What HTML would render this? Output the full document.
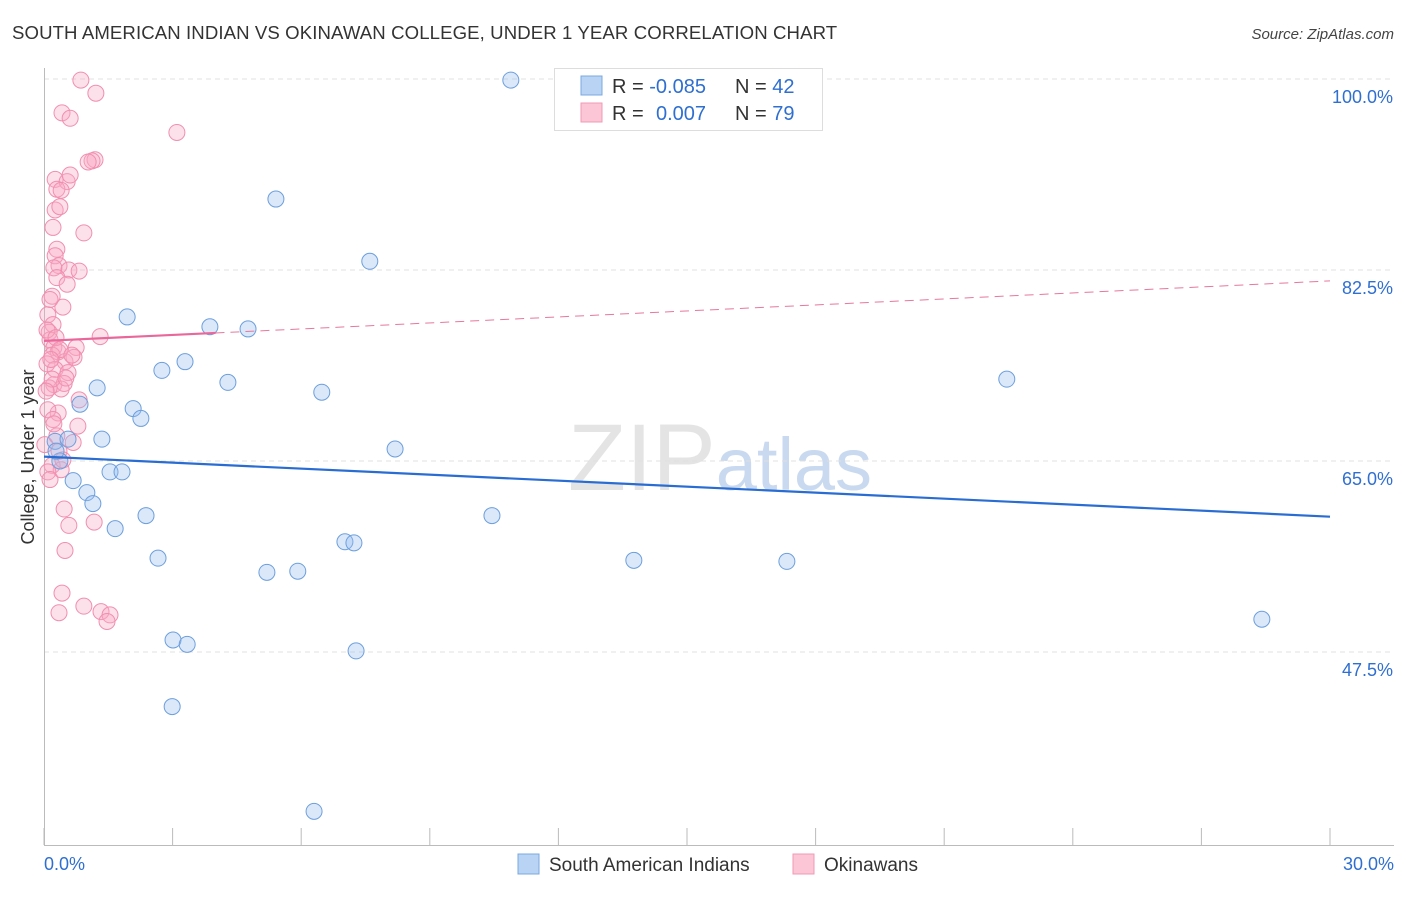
<!DOCTYPE html>
<html><head><meta charset="utf-8">
<style>
body{margin:0;background:#fff;font-family:"Liberation Sans",sans-serif;}
svg text{font-family:"Liberation Sans",sans-serif;}
</style></head>
<body>
<svg id="chart" width="1406" height="892" xmlns="http://www.w3.org/2000/svg">
<text x="12" y="39" font-size="18.6" fill="#333" letter-spacing="0.1">SOUTH AMERICAN INDIAN VS OKINAWAN COLLEGE, UNDER 1 YEAR CORRELATION CHART</text>
<text x="1394" y="39" font-size="15" fill="#444" text-anchor="end" font-style="italic">Source: ZipAtlas.com</text>
<text x="720" y="490" font-size="95" fill="#e4e4e4" text-anchor="middle" font-family="Liberation Serif">ZIP<tspan fill="#c9d9ef" font-family="Liberation Sans" font-size="74">atlas</tspan></text>
<text transform="translate(34,457) rotate(-90)" font-size="18" fill="#333" text-anchor="middle">College, Under 1 year</text>
<g id="grid"></g><g id="axes"></g><g id="pink"></g><g id="blue"></g><g id="trends"></g>
<g>
<rect x="554.5" y="68.5" width="268" height="62" fill="#fff" stroke="#ddd"/>
<rect x="581" y="76" width="21" height="19" fill="#b9d3f5" stroke="#7aa8e0"/>
<rect x="581" y="103" width="21" height="19" fill="#fcc6d6" stroke="#f09ab6"/>
<text x="612" y="93" font-size="20" fill="#333">R = <tspan fill="#2f6fd0">-0.085</tspan><tspan x="735">N = </tspan><tspan fill="#2f6fd0">42</tspan></text>
<text x="612" y="120" font-size="20" fill="#333">R = <tspan fill="#2f6fd0" x="656">0.007</tspan><tspan x="735">N = </tspan><tspan fill="#2f6fd0">79</tspan></text>
</g>
<g>
<rect x="518" y="854" width="21" height="20" fill="#b9d3f5" stroke="#7aa8e0"/>
<text x="549" y="871" font-size="19" fill="#333">South American Indians</text>
<rect x="793" y="854" width="21" height="20" fill="#fcc6d6" stroke="#f09ab6"/>
<text x="824" y="871" font-size="19" fill="#333">Okinawans</text>
</g>
</svg>
<script>
const xTicks=[0,3,6,9,12,15,18,21,24,27,30];
const yTicks=[100,82.5,65,47.5];
const yTickLabels=["100.0%","82.5%","65.0%","47.5%"];
const blueX=[10.89,5.41,7.60,1.94,3.87,4.76,3.29,2.75,4.29,1.24,6.48,22.46,0.84,2.08,2.26,1.35,0.26,0.56,8.19,0.37,1.54,1.82,0.68,1.00,1.14,2.38,10.45,1.66,7.02,7.23,2.66,13.76,17.33,5.20,5.92,28.41,3.01,3.34,7.28,2.99,6.30,0.28];
const blueY=[99.9,89.0,83.3,78.2,77.3,77.1,74.1,73.3,72.2,71.7,71.3,72.5,70.2,69.8,68.9,67.0,66.8,67.0,66.1,65.0,64.0,64.0,63.2,62.1,61.1,60.0,60.0,58.8,57.6,57.5,56.1,55.9,55.8,54.8,54.9,50.5,48.6,48.2,47.6,42.5,32.9,65.9];
const pinkX=[.86,1.21,.42,.61,3.10,1.19,1.12,.26,.54,.30,.40,.26,.37,.93,.21,.30,.26,.35,.58,.82,.23,.30,.54,.19,.44,.09,.21,.12,1.31,.14,.23,.33,.75,.19,.49,.70,.07,.26,.56,.23,.47,.40,.12,.82,.33,.09,.79,.21,.68,.02,.35,.19,.40,.09,.47,1.17,.58,.49,.42,.93,.35,1.33,1.54,1.47,.19,.07,.28,.14,.61,.37,.16,.30,.51,1.03,.05,.23,.44,.65,.14];
const pinkY=[99.9,98.7,96.9,96.4,95.1,92.6,92.5,90.8,90.6,89.9,89.8,88.0,88.3,85.9,86.4,84.4,83.8,82.9,82.5,82.4,82.7,81.8,81.2,80.1,79.1,78.4,77.5,76.8,76.4,76.1,75.4,75.0,75.4,74.7,74.1,74.5,73.9,73.4,73.1,72.0,72.1,71.6,71.7,70.6,69.4,69.7,68.2,68.8,66.7,66.5,65.9,64.6,64.2,64.0,60.6,59.4,59.1,56.8,52.9,51.7,51.1,51.2,50.9,50.3,72.5,77.0,76.3,79.8,91.2,75.2,74.3,67.3,72.6,92.4,71.4,68.4,65.1,74.7,63.3];
const blueTrend=[65.4,59.9];
const pinkTrend=[76.0,81.5];
const X=v=>44+v*(1286/30);
const Y=v=>79+(100-v)*(191/17.5);
const NS="http://www.w3.org/2000/svg";
function mk(parent,tag,attrs){const e=document.createElementNS(NS,tag);for(const k in attrs)e.setAttribute(k,attrs[k]);document.getElementById(parent).appendChild(e);return e;}
yTicks.forEach((t,i)=>{
 const g=mk('grid','line',{x1:44,x2:1394,y1:Y(t),y2:Y(t),stroke:'#e0e0e0','stroke-dasharray':'5,4'});
 
 
 const l=mk('grid','text',{x:1393,y:Y(t)+24,'font-size':18,fill:'#2f6fd0','text-anchor':'end'});
 l.textContent=yTickLabels[i];
 
 
});
const ax=mk('axes','path',{d:'M44.5 68 V845.5 H1394',stroke:'#bbb',fill:'none'});


xTicks.forEach(t=>{
 const k=mk('axes','line',{x1:X(t),x2:X(t),y1:828,y2:845,stroke:'#bbb'});
 
 
});
[[0,'0.0%','start',44],[30,'30.0%','end',1394]].forEach(a=>{
 const l=mk('axes','text',{x:a[3],y:870,'font-size':18,fill:'#2f6fd0','text-anchor':a[2]});
 l.textContent=a[1];
 
 
});
pinkX.forEach((v,i)=>{
 const c=mk('pink','circle',{cx:X(v),cy:Y(pinkY[i]),r:8,fill:'rgba(248,170,196,0.35)',stroke:'#f08fb0','stroke-width':1});
 
 
});
blueX.forEach((v,i)=>{
 const c=mk('blue','circle',{cx:X(v),cy:Y(blueY[i]),r:8,fill:'rgba(150,190,240,0.35)',stroke:'#6d9fdc','stroke-width':1});
 
 
});
const bt=mk('trends','line',{x1:X(0),y1:Y(blueTrend[0]),x2:X(30),y2:Y(blueTrend[1]),stroke:'#2a6dd2','stroke-width':2.2});


const pAt=v=>pinkTrend[0]+(pinkTrend[1]-pinkTrend[0])*v/30;
const pd=mk('trends','line',{x1:X(4),y1:Y(pAt(4)),x2:X(30),y2:Y(pAt(30)),stroke:'#e9779c','stroke-width':1,'stroke-dasharray':'9,6'});


const ps=mk('trends','line',{x1:X(0),y1:Y(pAt(0)),x2:X(4),y2:Y(pAt(4)),stroke:'#e9679a','stroke-width':2.2});


</script>
</body></html>
